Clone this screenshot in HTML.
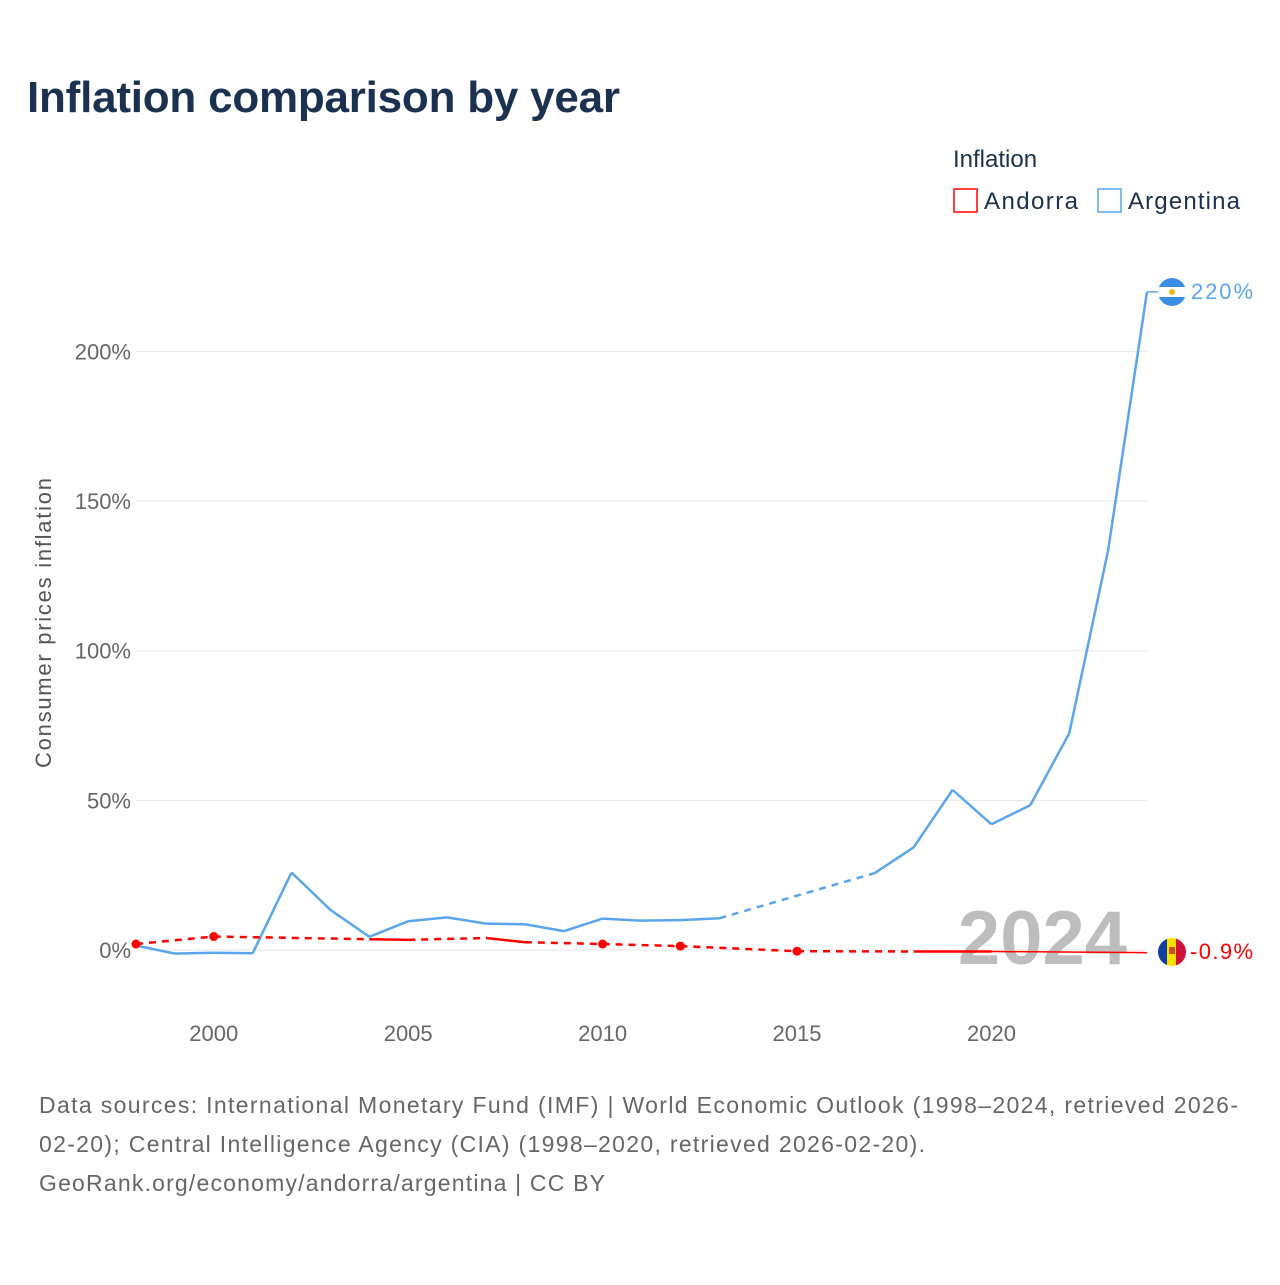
<!DOCTYPE html>
<html><head><meta charset="utf-8"><style>
body{margin:0;background:#fff;font-family:"Liberation Sans",sans-serif}
</style></head><body>
<svg width="1280" height="1280" xmlns="http://www.w3.org/2000/svg" style="font-family:'Liberation Sans',sans-serif">
<text x="27" y="112" font-size="44" font-weight="bold" fill="#1a3150" textLength="593">Inflation comparison by year</text>
<text x="953" y="167" font-size="24" fill="#1a3150">Inflation</text>
<g><rect x="954" y="189" width="23" height="23" fill="none" stroke="#f00" stroke-width="1.5"/><text x="984" y="209" font-size="24" fill="#1a3150" textLength="94">Andorra</text></g>
<g><rect x="1098" y="189" width="23" height="23" fill="none" stroke="#5aa5ec" stroke-width="1.5"/><text x="1128" y="209" font-size="24" fill="#1a3150" textLength="112">Argentina</text></g>
<g id="grid"></g>
<g id="yt"></g>
<g id="xt"></g>
<text transform="translate(51,623) rotate(-90)" text-anchor="middle" font-size="22" fill="#555" textLength="290">Consumer prices inflation</text>
<text x="1127" y="964" text-anchor="end" font-size="76" font-weight="bold" fill="#bdbdbd">2024</text>
<g id="series"></g>
<g><clipPath id="c1"><circle cx="1172" cy="292" r="14"/></clipPath><g clip-path="url(#c1)"><rect x="1158" y="278" width="28" height="28" fill="#3a8ee6"/><rect x="1158" y="287" width="28" height="10" fill="#fff"/><circle cx="1172" cy="292" r="3" fill="#f6b40e"/></g></g>
<text x="1191" y="299" font-size="22" fill="#5aa5ec" textLength="62">220%</text>
<g><clipPath id="c2"><circle cx="1172" cy="952" r="14"/></clipPath><g clip-path="url(#c2)"><rect x="1158" y="938" width="10" height="28" fill="#1040a0"/><rect x="1167" y="938" width="10" height="28" fill="#fedf00"/><rect x="1176" y="938" width="10" height="28" fill="#d0103a"/><rect x="1169" y="947" width="6" height="7" fill="#c7502a"/></g></g>
<text x="1190" y="959" font-size="22" fill="#f00" textLength="63">-0.9%</text>
<text font-size="23" fill="#666"><tspan x="39" y="1113" textLength="1199">Data sources: International Monetary Fund (IMF) | World Economic Outlook (1998–2024, retrieved 2026-</tspan><tspan x="39" y="1152" textLength="886">02-20); Central Intelligence Agency (CIA) (1998–2020, retrieved 2026-02-20).</tspan><tspan x="39" y="1191" textLength="566">GeoRank.org/economy/andorra/argentina | CC BY</tspan></text>
</svg>
<script>
const yTicks=[0,50,100,150,200];
const xTicks=[2000,2005,2010,2015,2020];
const argYears=[1998,1999,2000,2001,2002,2003,2004,2005,2006,2007,2008,2009,2010,2011,2012,2013,2017,2018,2019,2020,2021,2022,2023,2024];
const argVals=[1.5,-1.2,-0.9,-1.1,25.9,13.4,4.4,9.6,10.9,8.8,8.6,6.3,10.5,9.8,10.0,10.6,25.7,34.3,53.5,42.0,48.4,72.4,133.5,219.9];
const andYears=[1998,2000,2004,2005,2007,2008,2010,2012,2015,2018,2019,2020,2024];
const andVals=[2.0,4.5,3.6,3.4,4.0,2.6,2.0,1.3,-0.4,-0.5,-0.5,-0.5,-0.9];
const X=y=>136+(y-1998)*(1147-136)/26;
const Y=v=>950-v*2.993;
const NS='http://www.w3.org/2000/svg';
function mk(t,a,p){const e=document.createElementNS(NS,t);for(const k in a)e.setAttribute(k,a[k]);p.appendChild(e);return e;}
const grid=document.getElementById('grid'),yt=document.getElementById('yt'),xt=document.getElementById('xt'),S=document.getElementById('series');
yTicks.forEach(v=>{const l=mk('line',{x1:136,x2:1147,y1:Y(v),y2:Y(v),stroke:'#e6e6e6'},grid);


const t=mk('text',{x:131,y:Y(v)+8,'text-anchor':'end','font-size':22,fill:'#666'},yt);t.textContent=v+'%';

});
xTicks.forEach(v=>{const t=mk('text',{x:X(v),y:1041,'text-anchor':'middle','font-size':22,fill:'#666'},xt);t.textContent=v;

});
function draw(yrs,vals,col,name,lastThin){
 for(let i=0;i<yrs.length-1;i++){
  const gap=yrs[i+1]-yrs[i]>1;const thin=lastThin&&i==yrs.length-2;
  const l=mk('line',{x1:X(yrs[i]),y1:Y(vals[i]),x2:X(yrs[i+1]),y2:Y(vals[i+1]),stroke:col,'stroke-width':thin?1.5:2.5},S);
  if(gap&&!thin)l.setAttribute('stroke-dasharray','7,6');
  
  
 }
 if(col=='#f00'){yrs.forEach((y,i)=>{const iso=(i==0||y-yrs[i-1]>1)&&(i==yrs.length-1||yrs[i+1]-y>1);
  if(iso&&i<yrs.length-1){const c=mk('circle',{cx:X(y),cy:Y(vals[i]),r:4.5,fill:col},S);
  
  }});}
}
draw(argYears,argVals,'#5aa5ec','argentina',false);
draw(andYears,andVals,'#f00','andorra',true);
const c1=mk('polyline',{points:`${X(2024)},${Y(219.9)} 1160,${Y(219.9)}`,stroke:'#5aa5ec',fill:'none','stroke-width':1.5},S);


</script>
</body></html>
